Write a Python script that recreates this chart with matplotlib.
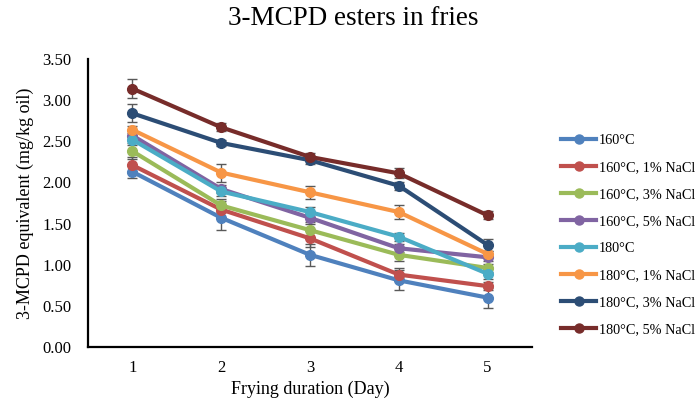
import matplotlib
matplotlib.use("Agg")
import matplotlib.pyplot as plt
from matplotlib.lines import Line2D

days = [1, 2, 3, 4, 5]
labels = ["160°C", "160°C, 1% NaCl", "160°C, 3% NaCl", "160°C, 5% NaCl",
          "180°C", "180°C, 1% NaCl", "180°C, 3% NaCl", "180°C, 5% NaCl"]

s160 = [2.13, 1.57, 1.12, 0.81, 0.60]
s160_1 = [2.21, 1.67, 1.32, 0.88, 0.74]
s160_3 = [2.38, 1.72, 1.42, 1.12, 0.96]
s160_5 = [2.57, 1.92, 1.57, 1.20, 1.09]
s180 = [2.52, 1.89, 1.64, 1.34, 0.89]
s180_1 = [2.64, 2.12, 1.88, 1.64, 1.13]
s180_3 = [2.84, 2.48, 2.27, 1.96, 1.24]
s180_5 = [3.14, 2.67, 2.31, 2.11, 1.60]

e160 = [0.08, 0.15, 0.13, 0.12, 0.12]
e160_1 = [0.10, 0.10, 0.10, 0.08, 0.05]
e160_3 = [0.10, 0.08, 0.08, 0.08, 0.05]
e160_5 = [0.05, 0.05, 0.05, 0.05, 0.04]
e180 = [0.06, 0.06, 0.06, 0.05, 0.06]
e180_1 = [0.04, 0.11, 0.08, 0.09, 0.04]
e180_3 = [0.11, 0.04, 0.04, 0.05, 0.07]
e180_5 = [0.12, 0.05, 0.05, 0.06, 0.05]

series = [s160, s160_1, s160_3, s160_5, s180, s180_1, s180_3, s180_5]
errors = [e160, e160_1, e160_3, e160_5, e180, e180_1, e180_3, e180_5]
colors = ["#4F81BD", "#C0504D", "#9BBB59", "#8064A2",
          "#4BACC6", "#F79646", "#2C4D75", "#772C2A"]

plt.rcParams['font.family'] = ['Liberation Serif', 'DejaVu Serif']

fig = plt.figure(figsize=(6.99, 4.03), dpi=100)
ax = fig.add_axes([88/699, 1 - 347/403, (532 - 88)/699, (347 - 59)/403])

for vals, errs, col, lab in zip(series, errors, colors, labels):
    ax.errorbar(days, vals, yerr=errs, color=col, lw=3.0, marker='o', markersize=7,
                ecolor='#595959', elinewidth=1.0, capsize=3.5, capthick=1.0, label=lab)

ax.set_xlim(0.5, 5.5)
ax.set_ylim(0, 3.5)
yt = [0, 0.5, 1.0, 1.5, 2.0, 2.5, 3.0, 3.5]
ax.set_yticks(yt)
ax.set_yticklabels([f"{v:.2f}" for v in yt])
ax.set_xticks(days)
ax.tick_params(length=0, labelsize=12)
ax.tick_params(axis='y', pad=12)
ax.tick_params(axis='x', pad=9)
for sp in ['top', 'right']:
    ax.spines[sp].set_visible(False)
for sp in ['left', 'bottom']:
    ax.spines[sp].set_linewidth(1.6)
    ax.spines[sp].set_color('black')

ax.set_xlabel("Frying duration (Day)", fontsize=13, labelpad=4)
ax.set_ylabel("3-MCPD equivalent (mg/kg oil)", fontsize=13, labelpad=6)
fig.suptitle("3-MCPD esters in fries", fontsize=19.5, x=0.505, y=0.985)

hs = [Line2D([0], [0], color=c, lw=3.0, marker='o', markersize=6.5) for c in colors]
fig.legend(hs, labels, loc='upper left', bbox_to_anchor=(555/699, 1 - 128/403),
           frameon=False, fontsize=10.3, handlelength=2.5, handletextpad=0.15,
           labelspacing=0.98, borderaxespad=0)

fig.savefig("out.png", dpi=100)
